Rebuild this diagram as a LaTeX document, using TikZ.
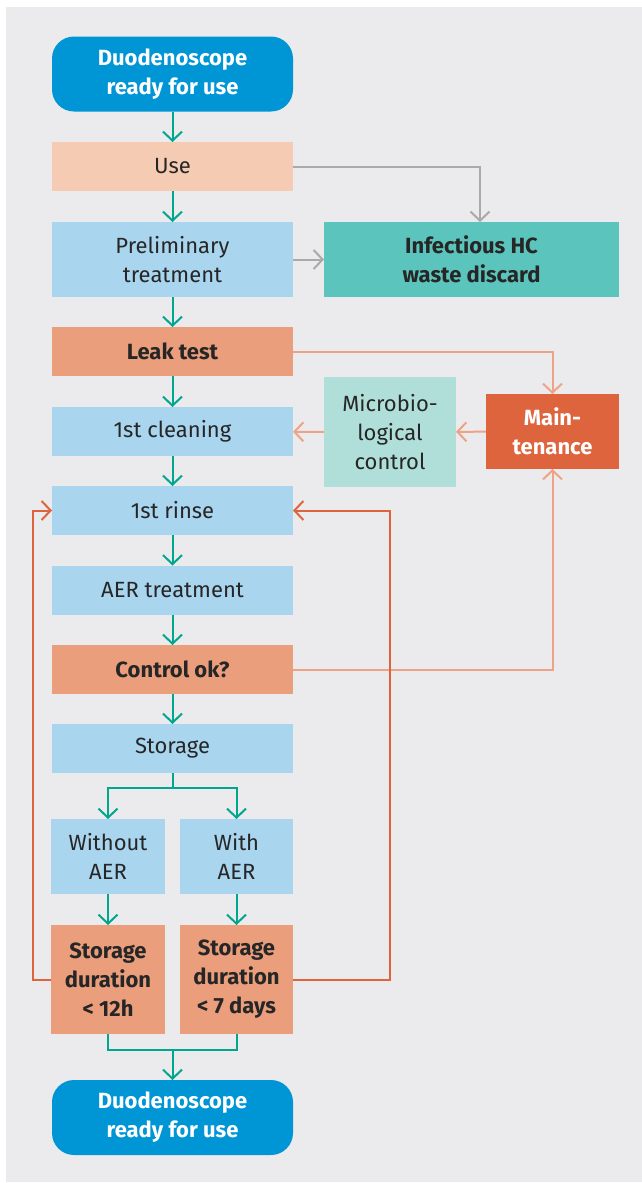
\documentclass[tikz,border=0pt]{standalone}
\usepackage{fontspec}
\setmainfont{Fira Sans}
\usetikzlibrary{arrows.meta}
\definecolor{bgc}{HTML}{EBEBED}
\definecolor{startc}{HTML}{0096D6}
\definecolor{usec}{HTML}{F5CBB3}
\definecolor{bluec}{HTML}{A9D5EF}
\definecolor{infc}{HTML}{5BC4BC}
\definecolor{salc}{HTML}{EB9E7C}
\definecolor{microc}{HTML}{B0DFDA}
\definecolor{maintc}{HTML}{DD643C}
\definecolor{tealc}{HTML}{00A68E}
\definecolor{grayc}{HTML}{AAAAAA}
\definecolor{salline}{HTML}{EFA386}
\definecolor{txtc}{HTML}{262626}
\begin{document}
\begin{tikzpicture}[x=1pt,y=-1pt,
  box/.style={inner sep=0pt,outer sep=0pt,align=center,text=txtc,
    font=\fontsize{22}{29}\selectfont},
  boldbox/.style={box,font=\fontsize{22}{29}\selectfont\bfseries},
  mainw/.style={minimum width=241pt},
  halfw/.style={minimum width=114pt},
  hs/.style={minimum height=49pt},
  ht/.style={minimum height=75pt},
  hb/.style={minimum height=109pt},
  tip/.style={-{Straight Barb[length=9pt,width=19pt]}},
  tealarr/.style={draw=tealc,line width=2pt,tip},
  tealln/.style={draw=tealc,line width=2pt},
  grayarr/.style={draw=grayc,line width=2pt,tip},
  salarr/.style={draw=salline,line width=2pt,tip},
  salln/.style={draw=salline,line width=2pt},
  looparr/.style={draw=maintc,line width=2pt,tip}]
\useasboundingbox (0,0) rectangle (642,1183);
\fill[bgc] (6,7) rectangle (642,1182);

\node[boldbox,mainw,ht,fill=startc,text=white,rounded corners=22pt] (start) at (172.5,74) {Duodenoscope\\ready for use};
\node[box,mainw,hs,fill=usec] (use) at (172.5,166.5) {Use};
\node[box,mainw,ht,fill=bluec] (prelim) at (172.5,259.5) {Preliminary\\treatment};
\node[boldbox,minimum width=295pt,ht,fill=infc] (inf) at (471.5,259.5) {Infectious HC\\waste discard};
\node[boldbox,mainw,hs,fill=salc] (leak) at (172.5,351.5) {Leak test};
\node[box,mainw,hs,fill=bluec] (clean) at (172.5,431.5) {1st cleaning};
\node[box,minimum width=132pt,minimum height=110pt,fill=microc] (micro) at (390,432) {Microbio-\\logical\\control};
\node[boldbox,minimum width=133pt,ht,fill=maintc,text=white] (maint) at (552.5,431.5) {Main-\\tenance};
\node[box,mainw,hs,fill=bluec] (rinse) at (172.5,510.5) {1st rinse};
\node[box,mainw,hs,fill=bluec] (aer) at (172.5,590) {AER treatment};
\node[boldbox,mainw,hs,fill=salc] (ctrl) at (172.5,669.5) {Control ok?};
\node[box,mainw,hs,fill=bluec] (stor) at (172.5,748.5) {Storage};
\node[box,halfw,ht,fill=bluec] (wo) at (108,856.5) {Without\\AER};
\node[box,minimum width=113pt,ht,fill=bluec] (wi) at (236.5,856.5) {With\\AER};
\node[boldbox,halfw,hb,fill=salc] (d12) at (108,979.5) {Storage\\duration\\< 12h};
\node[boldbox,minimum width=113pt,hb,fill=salc] (d7) at (236.5,979.5) {Storage\\duration\\< 7 days};
\node[boldbox,mainw,ht,fill=startc,text=white,rounded corners=22pt] (end) at (172.5,1117.5) {Duodenoscope\\ready for use};

\coordinate (split) at (172.5,788);
\coordinate (join) at (172.5,1050);
\coordinate (infin) at (480,222);
\coordinate (lx) at (33,979.5);
\coordinate (rx) at (390,979.5);

% main flow
\draw[tealarr] (start) -- (use);
\draw[tealarr] (use) -- (prelim);
\draw[tealarr] (prelim) -- (leak);
\draw[tealarr] (leak) -- (clean);
\draw[tealarr] (clean) -- (rinse);
\draw[tealarr] (rinse) -- (aer);
\draw[tealarr] (aer) -- (ctrl);
\draw[tealarr] (ctrl) -- (stor);
\draw[tealln] (stor) -- (split);
\draw[tealarr] (split) -| (wo.north);
\draw[tealarr] (split) -| (wi.north);
\draw[tealarr] (wo) -- (d12);
\draw[tealarr] (wi) -- (d7);
\draw[tealln] (d12.south) |- (join) -| (d7.south);
\draw[tealarr] (join) -- (end);

% gray
\draw[grayarr] (use.east) -| (infin);
\draw[grayarr] (prelim) -- (inf);

% salmon
\draw[salarr] (leak.east) -| (maint.north);
\draw[salarr] (maint) -- (micro);
\draw[salarr] (micro) -- (clean);
\draw[salarr] (ctrl.east) -| (maint.south);

% loops
\draw[looparr] (d12.west) -- (lx) |- (rinse.west);
\draw[looparr] (d7.east) -- (rx) |- (rinse.east);
\end{tikzpicture}
\end{document}
